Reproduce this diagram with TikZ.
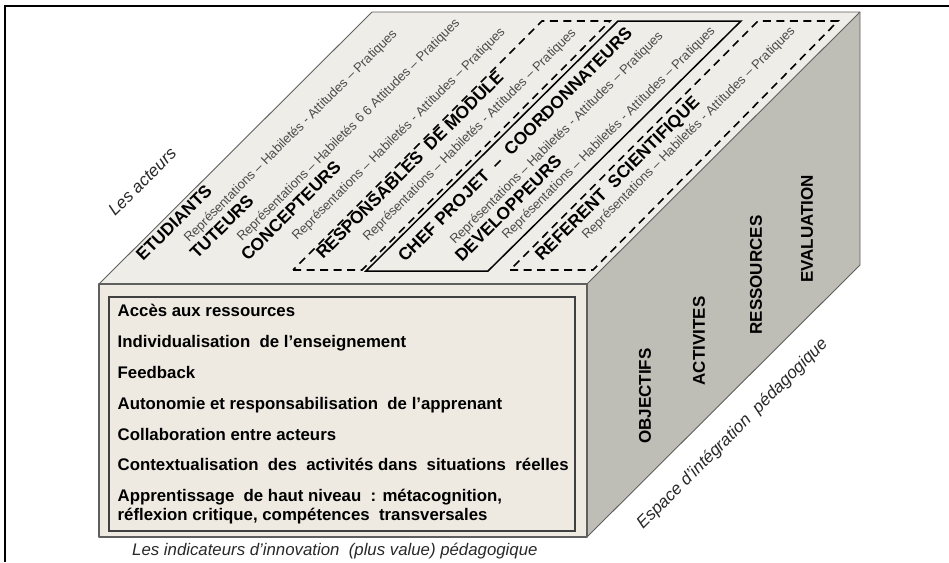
\documentclass[tikz,border=0pt]{standalone}
\usepackage{fontspec}
\setmainfont{Liberation Sans}
\definecolor{topface}{RGB}{238,237,231}
\definecolor{frontface}{RGB}{238,234,225}
\definecolor{rightface}{RGB}{190,189,182}
\definecolor{edgegrey}{RGB}{95,95,95}
\definecolor{greytext}{RGB}{75,75,75}
\definecolor{captext}{RGB}{40,40,40}
\tikzset{
  facestyle/.style={draw=edgegrey, line width=0.9pt, line join=round},
  boldlab/.style={font=\fontsize{17.3}{17}\selectfont\bfseries, rotate=45, anchor=base west, inner sep=0pt},
  greylab/.style={font=\fontsize{13}{13}\selectfont, text=greytext, rotate=45, anchor=base west, inner sep=0pt},
  itallab/.style={font=\fontsize{17}{17}\selectfont\itshape, text=captext, anchor=base west, inner sep=0pt},
  frontlab/.style={font=\fontsize{16.8}{17}\selectfont\bfseries, anchor=base west, inner sep=0pt},
  sidelab/.style={font=\fontsize{17}{17}\selectfont\bfseries, rotate=90, anchor=center, inner sep=0pt},
  dashbox/.style={draw=black, line width=1.6pt, dash pattern=on 8pt off 5.5pt},
  solidbox/.style={draw=black, line width=1.5pt},
}
\begin{document}
\begin{tikzpicture}[x=1pt,y=-1pt]
\useasboundingbox (0,0) rectangle (949,562);
% outer frame
\coordinate (fr1) at (5,562);
\coordinate (fr2) at (5,6);
\coordinate (fr3) at (949,6);
\draw[black, line width=1.3pt] (fr1) -- (fr2) -- (fr3);
% cube corners
\coordinate (A) at (99,284);
\coordinate (B) at (587,284);
\coordinate (C) at (587,537);
\coordinate (D) at (99,537);
\coordinate (E) at (372,12);
\coordinate (F) at (860,12);
\coordinate (G) at (860,265);
\fill[topface] (A) -- (B) -- (F) -- (E) -- cycle;
\fill[rightface] (B) -- (F) -- (G) -- (C) -- cycle;
\fill[frontface] (A) -- (B) -- (C) -- (D) -- cycle;
\draw[facestyle] (A) -- (E) -- (F) -- (B);
\draw[facestyle] (F) -- (G) -- (C);
\draw[facestyle, line width=1.3pt] (A) -- (B) -- (C) -- (D) -- cycle;
% inner box on the front face
\draw[draw=black!75, line width=1.2pt] (109,297) rectangle (575,531);
% top-face frames
\coordinate (d1a) at (293,270);
\coordinate (d1b) at (362,270);
\coordinate (d1c) at (610,21);
\coordinate (d1d) at (542,21);
\draw[dashbox] (d1a) -- (d1b) -- (d1c) -- (d1d) -- cycle;
\coordinate (s1a) at (366,271);
\coordinate (s1b) at (488,271);
\coordinate (s1c) at (741,21);
\coordinate (s1d) at (618,21);
\draw[solidbox] (s1a) -- (s1b) -- (s1c) -- (s1d) -- cycle;
\coordinate (d2a) at (510,270);
\coordinate (d2b) at (593,270);
\coordinate (d2c) at (838,21);
\coordinate (d2d) at (758,21);
\draw[dashbox] (d2a) -- (d2b) -- (d2c) -- (d2d) -- cycle;
% top-face texts
\node[itallab, rotate=45] (acteurs) at (115,217) {Les acteurs};
\node[boldlab] (etu) at (143,262) {ETUDIANTS};
\node[greylab] (g1) at (189,243) {Représentations – Habiletés - Attitudes – Pratiques};
\node[boldlab] (tut) at (197,260) {TUTEURS};
\node[greylab] (g2) at (242,242) {Représentations – Habiletés 6 6 Attitudes – Pratiques};
\node[boldlab] (con) at (248,262) {CONCEPTEURS};
\node[greylab] (g3) at (297,241) {Représentations – Habiletés - Attitudes – Pratiques};
\node[boldlab] (resp) at (323,260) {RESPONSABLES\ \ DE MODULE};
\node[greylab] (g4) at (368,242) {Représentations – Habiletés - Attitudes – Pratiques};
\node[boldlab] (chef) at (405,263) {CHEF PROJET\ \ –\ \ COORDONNATEURS};
\node[greylab] (g5) at (455,245) {Représentations – Habiletés - Attitudes – Pratiques};
\node[boldlab] (dev) at (462,263) {DEVELOPPEURS};
\node[greylab] (g6) at (507,240) {Représentations – Habiletés - Attitudes – Pratiques};
\node[boldlab] (ref) at (542,262) {REFERENT\ \ SCIENTIFIQUE};
\node[greylab] (g7) at (587,240) {Représentations – Habiletés - Attitudes – Pratiques};
% front-face texts
\node[frontlab] (f1) at (117.5,316) {Accès aux ressources};
\node[frontlab] (f2) at (117.5,347.5) {Individualisation\ \ de l’enseignement};
\node[frontlab] (f3) at (117.5,378) {Feedback};
\node[frontlab] (f4) at (117.5,409) {Autonomie et responsabilisation\ \ de l’apprenant};
\node[frontlab] (f5) at (117.5,440) {Collaboration entre acteurs};
\node[frontlab] (f6) at (117.5,470.5) {Contextualisation\ \ des\ \ activités dans\ \ situations\ \ réelles};
\node[frontlab] (f7) at (117.5,501.5) {Apprentissage\ \ de haut niveau\ \ : métacognition,};
\node[frontlab] (f8) at (117.5,520.5) {réflexion critique, compétences\ \ transversales};
\node[itallab, font=\fontsize{16.8}{16}\selectfont\itshape] (cap) at (132,555) {Les indicateurs d’innovation\ \ (plus value) pédagogique};
% right-face texts
\node[sidelab] (obj) at (645,396) {OBJECTIFS};
\node[sidelab] (act) at (699,341) {ACTIVITES};
\node[sidelab] (res) at (756,275) {RESSOURCES};
\node[sidelab] (eva) at (807,229) {EVALUATION};
\node[itallab, rotate=45] (espace) at (643,530) {Espace d’intégration\ \ pédagogique};
\end{tikzpicture}
\end{document}
